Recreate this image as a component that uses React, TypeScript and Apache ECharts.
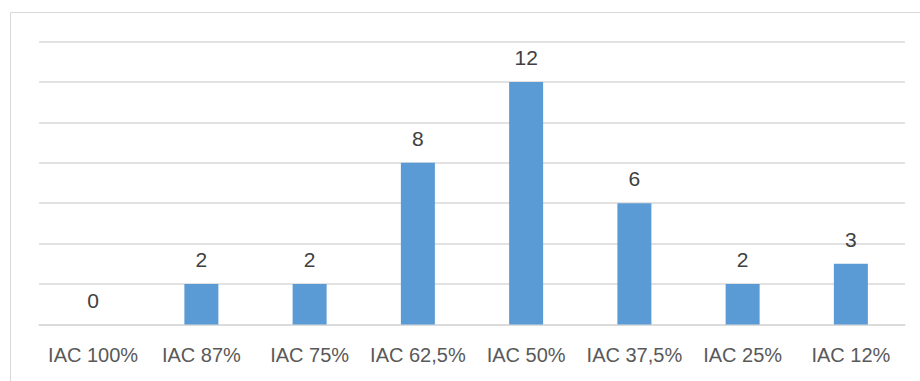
import React, { useEffect, useRef } from "react";
import * as echarts from "echarts";

const categories = ["IAC 100%", "IAC 87%", "IAC 75%", "IAC 62,5%", "IAC 50%", "IAC 37,5%", "IAC 25%", "IAC 12%"];
const values = [0, 2, 2, 8, 12, 6, 2, 3];

export default function App() {
  const ref = useRef<HTMLDivElement>(null);
  useEffect(() => {
    if (!ref.current) return;
    const chart = echarts.init(ref.current, null, { renderer: "svg" });
    const font = "'Liberation Sans', Arial, sans-serif";
    chart.setOption({
      animation: false,
      backgroundColor: "#ffffff",
      graphic: [
        {
          type: "rect",
          shape: { x: 10.5, y: 12.5, width: 950, height: 420 },
          style: { fill: "none", stroke: "#d9d9d9", lineWidth: 1 },
          silent: true,
        },
      ],
      grid: { left: 39, right: 15, top: 41.5, bottom: 56.5, containLabel: false },
      xAxis: {
        type: "category",
        data: categories,
        axisLine: { show: true, lineStyle: { color: "#d9d9d9", width: 1.5 } },
        axisTick: { show: false },
        axisLabel: {
          color: "#595959",
          fontSize: 20,
          fontFamily: font,
          margin: 20,
          interval: 0,
          hideOverlap: false,
        },
      },
      yAxis: {
        type: "value",
        min: 0,
        max: 14,
        interval: 2,
        axisLine: { show: false },
        axisTick: { show: false },
        axisLabel: { show: false },
        splitLine: { lineStyle: { color: "#d9d9d9", width: 1.5 } },
      },
      series: [
        {
          type: "bar",
          data: values,
          barWidth: 34,
          itemStyle: { color: "#5b9bd5" },
          label: {
            show: true,
            position: "top",
            distance: 14,
            color: "#404040",
            fontSize: 21,
            fontFamily: font,
          },
        },
      ],
    });
    return () => chart.dispose();
  }, []);
  return (
    <div
      ref={ref}
      style={{ position: "absolute", left: 0, top: 0, width: 920, height: 381 }}
    />
  );
}
